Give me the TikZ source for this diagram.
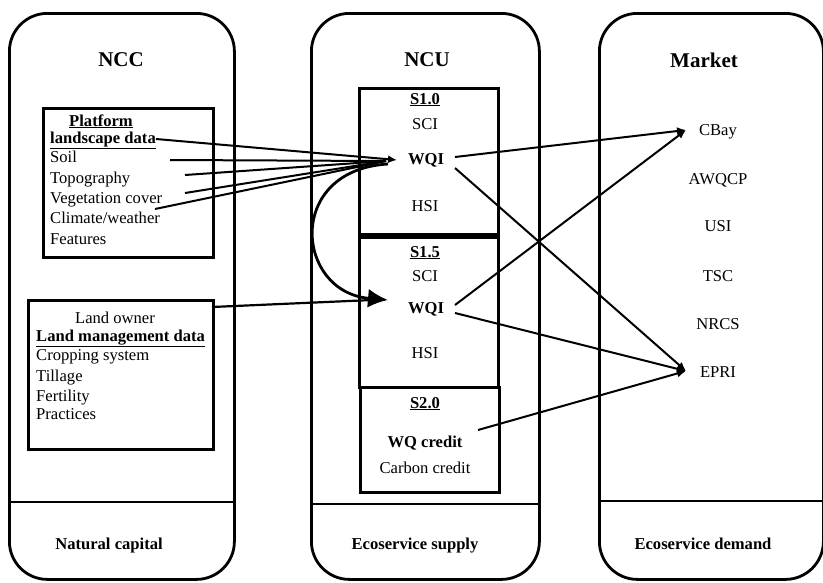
\documentclass[tikz,border=0pt]{standalone}
\usepackage{fontspec}
\setmainfont{Liberation Serif}
\usetikzlibrary{arrows.meta}
\begin{document}
\begin{tikzpicture}[x=1pt,y=-1pt,
  col/.style={draw,line width=2.8pt,rounded corners=38pt,anchor=north west,inner sep=0pt},
  boxx/.style={draw,line width=2.8pt,anchor=north west,inner sep=0pt},
  txt/.style={inner sep=0pt,font=\fontsize{16.6}{20}\selectfont,text height=11pt,text depth=3pt},
  btxt/.style={txt,font=\fontsize{16.6}{20}\selectfont\bfseries},
  ttl/.style={inner sep=0pt,font=\fontsize{21}{24}\selectfont\bfseries},
  conn/.style={line width=2pt},
  tip/.style={-{Latex[length=9pt,width=8pt]}},
  bigtip/.style={-{Latex[length=20pt,width=19pt]}},
]
\useasboundingbox (0,0) rectangle (823,582);
% columns
\node[col,minimum width=225pt,minimum height=566pt] (ncc) at (8,12) {};
\node[col,minimum width=228pt,minimum height=566pt] (ncu) at (310,12) {};
\node[col,minimum width=224pt,minimum height=566pt] (mkt) at (598,12) {};
\draw[line width=2.8pt] (8,502) -- (233,502);
\draw[line width=2.8pt] (310,504) -- (538,504);
\draw[line width=2.8pt] (598,501) -- (822,501);
% titles
\node[ttl] (tncc) at (121,60) {NCC};
\node[ttl] (tncu) at (427,60) {NCU};
\node[ttl] (tmkt) at (704,60) {Market};
\node[btxt] (bncc) at (109,545) {Natural capital};
\node[btxt] (bncu) at (415,545) {Ecoservice supply};
\node[btxt] (bmkt) at (703,545) {Ecoservice demand};
% platform box
\node[boxx,minimum width=170pt,minimum height=149pt] (plat) at (42,107) {};
\node[btxt] (p1) at (101,122) {\underline{Platform}};
\node[btxt,anchor=west] (p2) at (50,139) {\underline{landscape data}};
\node[txt,anchor=west] (p3) at (50,158) {Soil};
\node[txt,anchor=west] (p4) at (50,179) {Topography};
\node[txt,anchor=west] (p5) at (50,199) {Vegetation cover};
\node[txt,anchor=west] (p6) at (50,219) {Climate/weather};
\node[txt,anchor=west] (p7) at (50,240) {Features};
% land box
\node[boxx,minimum width=185pt,minimum height=149pt] (land) at (27,299) {};
\node[txt] (l1) at (115,319) {Land owner};
\node[btxt,anchor=west] (l2) at (36,337) {\underline{Land management data}};
\node[txt,anchor=west] (l3) at (36,356) {Cropping system};
\node[txt,anchor=west] (l4) at (36,377) {Tillage};
\node[txt,anchor=west] (l5) at (36,397) {Fertility};
\node[txt,anchor=west] (l6) at (36,415) {Practices};
% NCU boxes
\node[boxx,minimum width=139pt,minimum height=149pt] (s10) at (358,87) {};
\node[boxx,minimum width=139pt,minimum height=150pt] (s15) at (358,236) {};
\node[boxx,minimum width=139pt,minimum height=105pt] (s20) at (359,386) {};
\draw[line width=6pt] (358,236) -- (497,236);
\node[btxt] (h10) at (425,100) {\underline{S1.0}};
\node[txt] (c10) at (425,125) {SCI};
\node[btxt] (w10) at (426,160) {WQI};
\node[txt] (i10) at (425,207) {HSI};
\node[btxt] (h15) at (425,253) {\underline{S1.5}};
\node[txt] (c15) at (425,277) {SCI};
\node[btxt] (w15) at (426,309) {WQI};
\node[txt] (i15) at (425,354) {HSI};
\node[btxt] (h20) at (425,404) {\underline{S2.0}};
\node[btxt] (wq) at (425,443) {WQ credit};
\node[txt] (cc) at (425,469) {Carbon credit};
% market
\node[txt] (m1) at (718,131) {CBay};
\node[txt] (m2) at (718,180) {AWQCP};
\node[txt] (m3) at (718,227) {USI};
\node[txt] (m4) at (718,277) {TSC};
\node[txt] (m5) at (718,325) {NRCS};
\node[txt] (m6) at (718,373) {EPRI};
% coordinates
\coordinate (t1) at (397,160);
\coordinate (t1b) at (386,161);
\coordinate (a1) at (170,160);
\coordinate (a2) at (185,175);
\coordinate (a3) at (185,193);
\coordinate (a4) at (155,209);
\coordinate (t2) at (388,300);
\coordinate (lo) at (212,307);
\coordinate (cs) at (388,164);
\coordinate (tc) at (686,130);
\coordinate (te) at (686,371);
\coordinate (o1) at (455,157);
\coordinate (o2) at (455,168);
\coordinate (o3) at (455,305);
\coordinate (o4) at (455,313);
\coordinate (o5) at (478,430);
% left connectors
\draw[conn,tip] (p2.east) -- (t1);
\draw[conn] (a1) -- (t1b);
\draw[conn] (a2) -- (t1b);
\draw[conn] (a3) -- (t1b);
\draw[conn] (a4) -- (t1b);
\draw[line width=2.8pt,bigtip] (cs) .. controls (285,170) and (295,292) .. (t2);
\draw[line width=2.2pt] (lo) -- (372,300);
% right connectors
\draw[conn,tip] (o1) -- (tc);
\draw[conn,tip] (o2) -- (te);
\draw[conn,tip] (o3) -- (tc);
\draw[conn,tip] (o4) -- (te);
\draw[conn,tip] (o5) -- (te);
\end{tikzpicture}
\end{document}
